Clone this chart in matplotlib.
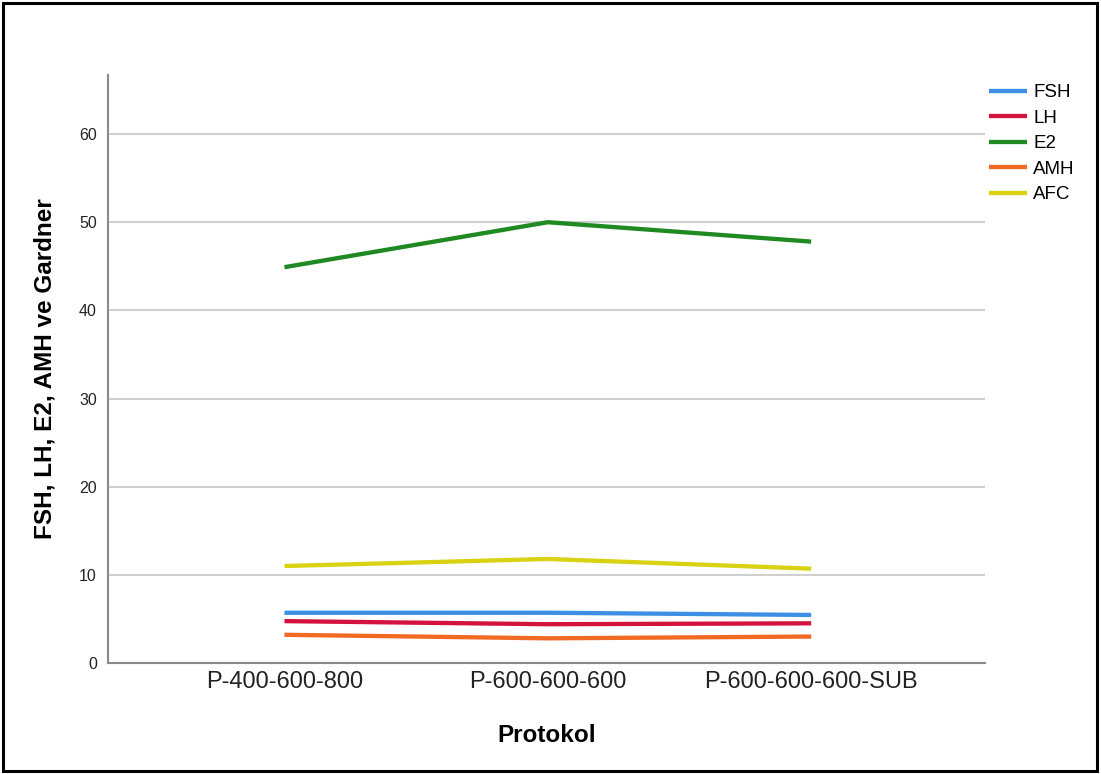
import matplotlib.pyplot as plt
from matplotlib.patches import Rectangle

plt.rcParams['font.family'] = ['Liberation Sans', 'DejaVu Sans']

protokol = ['P-400-600-800', 'P-600-600-600', 'P-600-600-600-SUB']
fsh = [5.7, 5.7, 5.45]
lh = [4.75, 4.4, 4.5]
e2 = [44.9, 50.0, 47.8]
amh = [3.2, 2.8, 3.0]
afc = [11.0, 11.8, 10.7]

series = [('FSH', fsh, '#3d8fe6'),
          ('LH', lh, '#d4123e'),
          ('E2', e2, '#1f8a22'),
          ('AMH', amh, '#f06a24'),
          ('AFC', afc, '#d8d212')]

fig = plt.figure(figsize=(11.01, 7.74), dpi=100)
ax = fig.add_axes([108 / 1101, 111 / 774, 877 / 1101, 588 / 774])

x = list(range(len(protokol)))
for name, vals, col in series:
    ax.plot(x, vals, color=col, lw=3.1, label=name, solid_capstyle='butt')

ax.set_xlim(-0.67, 2.66)
ax.set_ylim(0, 66.7)
ax.set_yticks([0, 10, 20, 30, 40, 50, 60])
ax.set_xticks(x)
ax.set_xticklabels(protokol, fontsize=17, color='#222222')
ax.tick_params(axis='y', length=0, pad=8, labelsize=11.5, labelcolor='#222222')
ax.tick_params(axis='x', length=0, pad=6)

ax.grid(axis='y', color='#cfcfcf', lw=1.5)
ax.set_axisbelow(True)
for s in ['top', 'right']:
    ax.spines[s].set_visible(False)
for s in ['left', 'bottom']:
    ax.spines[s].set_color('#8a8a8a')
    ax.spines[s].set_linewidth(1.5)

ax.set_xlabel('Protokol', fontsize=17.5, fontweight='bold', labelpad=22)
ax.set_ylabel('FSH, LH, E2, AMH ve Gardner', fontsize=17.5, fontweight='bold', labelpad=16)

ax.legend(loc='upper left', bbox_to_anchor=(989 / 1101, 1 - 84 / 774),
          bbox_transform=fig.transFigure, frameon=False, fontsize=13.5,
          handlelength=2.0, handletextpad=0.35, labelspacing=0.45, borderpad=0,
          borderaxespad=0)

fig.patches.append(Rectangle((3 / 1101, 3 / 774), 1094 / 1101, 768 / 774,
                             transform=fig.transFigure, fill=False,
                             edgecolor='black', lw=2.2))

fig.savefig('out.png', dpi=100)
